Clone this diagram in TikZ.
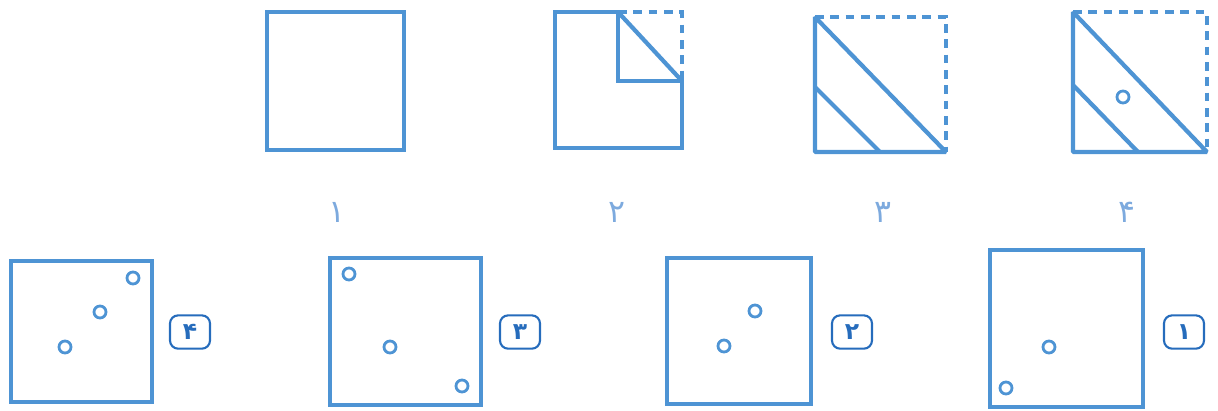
\documentclass[tikz,border=0pt]{standalone}
\usepackage{fontspec}
\usepackage{xcolor}
\newfontfamily\arabicfont[Script=Arabic]{DejaVu Sans}
\TeXXeTstate=1
\definecolor{paperblue}{RGB}{78,148,212}
\definecolor{labelblue}{RGB}{125,170,222}
\definecolor{badgeblue}{RGB}{38,108,188}

\begin{document}
\begin{tikzpicture}[
    x=0.03cm, y=-0.03cm,
    fold/.style={draw=paperblue, line width=3.6pt, line join=miter},
    tri/.style={fold, line join=bevel},
    foldline/.style={fold, line width=3.2pt, dash pattern=on 2.6mm off 2.0mm},
    choicebox/.style={draw=paperblue, line width=3pt},
    hole/.style={draw=paperblue, line width=2.4pt},
    steplbl/.style={font=\arabicfont\fontsize{27}{30}\selectfont, text=labelblue},
    badge/.style={draw=badgeblue, rounded corners=7pt, line width=1.8pt,
                  minimum width=1.2cm, minimum height=1.0cm,
                  font=\arabicfont\bfseries\fontsize{20}{24}\selectfont, text=badgeblue},
]
\useasboundingbox (0,0) rectangle (1218,410);

%% ── Step 1: plain sheet ──────────────────────────────────────────────────
\draw[fold] (267,12) rectangle (404,150);

%% ── Step 2: corner folded down ───────────────────────────────────────────
\draw[fold] (618,12) -- (555,12) -- (555,148) -- (682,148) -- (682,81)
    -- (618,81) -- cycle;
\draw[fold] (618,12) -- (682,81);
\draw[foldline] (618,12) -- (682,12) -- (682,81);

%% ── Step 3: folded on the diagonal ───────────────────────────────────────
\draw[tri] (946,152) -- (815,152) -- (815,17) -- cycle;
\draw[fold] (815,87) -- (880,152);
\draw[foldline] (815,17) -- (946,17) -- (946,152);

%% ── Step 4: punched ──────────────────────────────────────────────────────
\draw[tri] (1207,152) -- (1073,152) -- (1073,12) -- cycle;
\draw[fold] (1073,85) -- (1138,152);
\draw[foldline] (1073,12) -- (1207,12) -- (1207,152);
\draw[hole] (1123,97) circle (6);

%% ── Step numbers ─────────────────────────────────────────────────────────
\node[steplbl] (s1) at (337,212) {۱};
\node[steplbl] (s2) at (617,212) {۲};
\node[steplbl] (s3) at (883,212) {۳};
\node[steplbl] (s4) at (1127,212) {۴};

%% ── Answer 4 ─────────────────────────────────────────────────────────────
\draw[choicebox] (11,261) rectangle (152,402);
\draw[hole] (133,278) circle (6);
\draw[hole] (100,312) circle (6);
\draw[hole] (65,347) circle (6);
\node[badge] (a4) at (190,332) {۴};

%% ── Answer 3 ─────────────────────────────────────────────────────────────
\draw[choicebox] (330,258) rectangle (481,405);
\draw[hole] (349,274) circle (6);
\draw[hole] (390,347) circle (6);
\draw[hole] (462,386) circle (6);
\node[badge] (a3) at (520,332) {۳};

%% ── Answer 2 ─────────────────────────────────────────────────────────────
\draw[choicebox] (667,258) rectangle (811,404);
\draw[hole] (755,311) circle (6);
\draw[hole] (724,346) circle (6);
\node[badge] (a2) at (852,332) {۲};

%% ── Answer 1 ─────────────────────────────────────────────────────────────
\draw[choicebox] (990,250) rectangle (1143,407);
\draw[hole] (1049,347) circle (6);
\draw[hole] (1006,388) circle (6);
\node[badge] (a1) at (1184,332) {۱};

\end{tikzpicture}
\end{document}
